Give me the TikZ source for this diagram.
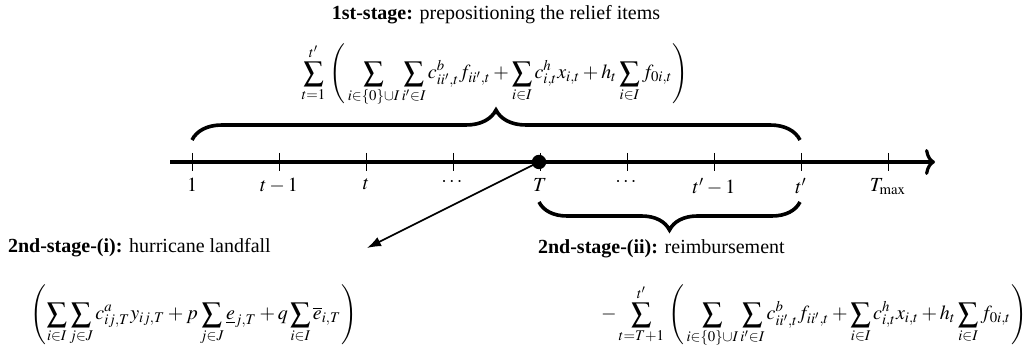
\documentclass[tikz,border=0pt]{standalone}
\usepackage{amsmath}
\usepackage{mathptmx}
\usepackage{fontspec}
\setmainfont{Liberation Serif}
\usetikzlibrary{decorations.pathreplacing,arrows.meta}
\newcommand{\stagecost}{\left(\,\sum_{i\in\{0\}\cup I}\sum_{i'\in I} c^b_{ii',t} f_{ii',t} + \sum_{i\in I} c^h_{i,t} x_{i,t} + h_t \sum_{i\in I} f_{0i,t} \right)}

\begin{document}
\begin{tikzpicture}[x=0.5pt,y=0.5pt,
  brace/.style={decorate,decoration={brace,amplitude=15pt},line width=1.8pt},
  timeline/.style={line width=1.6pt,-{To[length=5pt,width=13pt]}},
  tick/.style={line width=0.5pt}]
\useasboundingbox (0,-190) rectangle (1034,162);
% time axis with its periods
\draw[timeline] (170,0) -- (935,0);
\foreach \k/\lab in {0/1,1/t-1,2/t,3/\cdots,4/T,5/\cdots,6/t'-1,7/t',8/T_{\max}}
  {\draw[tick] (192+87*\k,9) -- (192+87*\k,-9) node[below] (tk\k) {$\lab$};}
\coordinate (T) at (539,0);
\fill (T) circle (3.6pt);

\node (first) at (496,147) {\textbf{1st-stage:} prepositioning the relief items};
\node (costone) at (495,87) {$\displaystyle \sum_{t=1}^{t'} \,\stagecost$};
\draw[brace] (192,22) -- (800,22);

\coordinate (landfall) at (367,-86);
\draw[line width=0.8pt,-{Latex[length=7pt,width=5pt]}] (T) -- (landfall);
\draw[brace,decoration={mirror,amplitude=14pt}] (539,-40) -- (800,-40);

\node[anchor=west] (secondi) at (1,-86) {\textbf{2nd-stage-(i):} hurricane landfall};
\node[anchor=east] (costtwoi) at (364,-153) {$\displaystyle \left(\sum_{i\in I}\sum_{j\in J} c^a_{ij,T} y_{ij,T} + p\sum_{j\in J} \underline{e}_{j,T} + q\sum_{i\in I} \overline{e}_{i,T} \right)$};
\node[anchor=west] (secondii) at (531,-87) {\textbf{2nd-stage-(ii):} reimbursement};
\node[anchor=east] (costtwoii) at (1034,-154) {$\displaystyle -\sum_{t=T+1}^{t'} \,\stagecost$};
\end{tikzpicture}
\end{document}
